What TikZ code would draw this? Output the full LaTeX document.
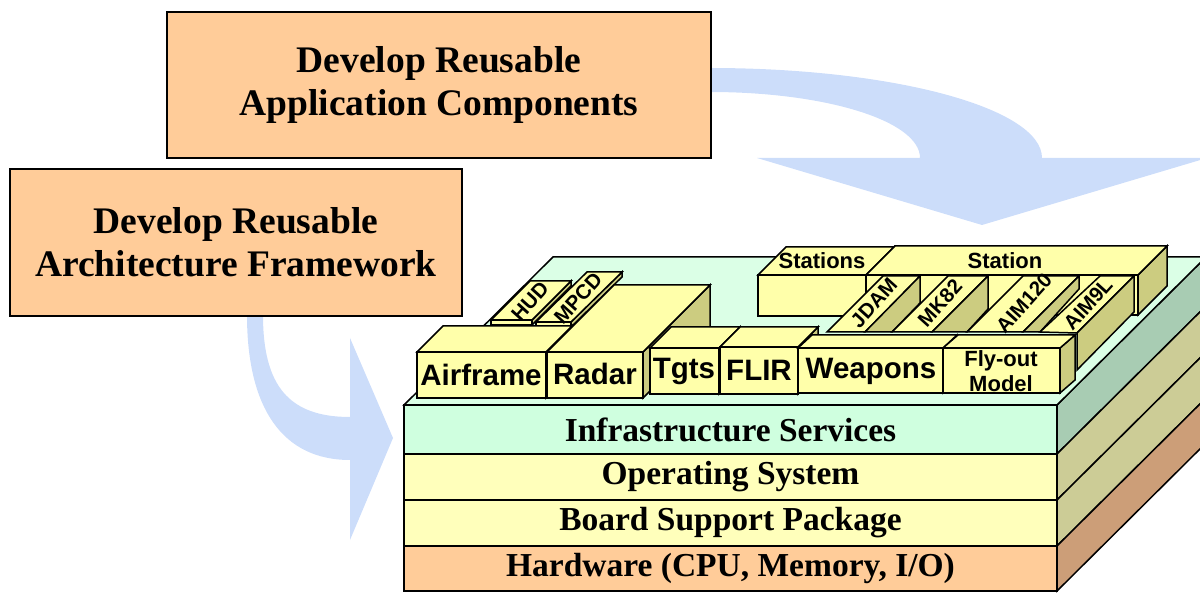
\documentclass[tikz,border=0pt]{standalone}
\usepackage{fontspec}
\setmainfont{Liberation Serif}
\setsansfont{Liberation Sans}
\definecolor{orangebox}{HTML}{FFCC99}
\definecolor{arrowblue}{HTML}{CCDDFA}
\definecolor{topmint}{HTML}{DBFFE6}
\definecolor{infrafront}{HTML}{CFFFDF}
\definecolor{infraside}{HTML}{A8CCB3}
\definecolor{osfront}{HTML}{FFFFBB}
\definecolor{osside}{HTML}{CCCC96}
\definecolor{hwfront}{HTML}{FFCC99}
\definecolor{hwside}{HTML}{CC9E78}
\definecolor{compfront}{HTML}{FFFFAA}
\definecolor{compside}{HTML}{CCCC80}
\newcommand\boxthree[6]{%
  \filldraw[sideface] (#3,#2) -- ++(#5,-#6) -- ++(0,#4-#2) -- (#3,#4) -- cycle;
  \filldraw[topface] (#1,#2) -- (#3,#2) -- ++(#5,-#6) -- ++(#1-#3,0) -- cycle;
  \filldraw[frontface] (#1,#2) rectangle (#3,#4);
}
\begin{document}
\begin{tikzpicture}[x=1pt,y=-1pt,
  edge/.style={draw=black,line width=1.5pt},
  sideface/.style={edge,fill=compside},
  topface/.style={edge,fill=compfront},
  frontface/.style={edge,fill=compfront},
  obox/.style={fill=orangebox,draw=black,line width=2pt,align=center,inner sep=0pt,
    font=\bfseries\fontsize{37.5}{43}\selectfont},
  layer/.style={edge,inner sep=0pt,outer sep=0pt,minimum width=653pt,
    font=\bfseries\fontsize{33.5}{36}\selectfont},
  comptext/.style={inner sep=0pt,font=\sffamily\bfseries\fontsize{29.5}{30}\selectfont},
  smalltext/.style={inner sep=0pt,align=center,font=\sffamily\bfseries\fontsize{22}{25}\selectfont},
  slanttext/.style={inner sep=0pt,rotate=48,font=\sffamily\bfseries\fontsize{20.5}{21}\selectfont},
  bigarrow/.style={fill=arrowblue,draw=none}]
\useasboundingbox (0,0) rectangle (1200,593);
\clip (0,0) rectangle (1200,593);

% big curved arrows
\path[bigarrow] (700,68) -- (710,68) .. controls (893,68) and (1042,108) .. (1042,158)
  -- (1207,158) -- (982,225) -- (757,158) -- (920,158)
  .. controls (920,121) and (826,92) .. (710,92) -- (700,92) -- cycle;
\path[bigarrow] (247,305) -- (247,315) .. controls (247,409) and (283,460) .. (350,460)
  -- (350,540) -- (393,438) -- (350,338) -- (350,417)
  .. controls (289,417) and (263,386) .. (263,315) -- (263,305) -- cycle;

% orange boxes
\node[obox,minimum width=544pt,minimum height=146pt] (appbox) at (439,85)
  {Develop Reusable\\Application Components};
\node[obox,minimum width=452pt,minimum height=147pt] (archbox) at (236,242.5)
  {Develop Reusable\\Architecture Framework};

% stack side faces and top
\filldraw[edge,fill=infraside] (1057,405) -- (1206,257) -- (1206,306) -- (1057,454) -- cycle;
\filldraw[edge,fill=osside] (1057,454) -- (1206,306) -- (1206,352) -- (1057,500) -- cycle;
\filldraw[edge,fill=osside] (1057,500) -- (1206,352) -- (1206,398) -- (1057,546) -- cycle;
\filldraw[edge,fill=hwside] (1057,546) -- (1206,398) -- (1206,443) -- (1057,591) -- cycle;
\filldraw[edge,fill=topmint] (404,405) -- (1057,405) -- (1206,257) -- (553,257) -- cycle;

% stack front layers
\node[layer,fill=infrafront,minimum height=49pt] (infra) at (730.5,429.5) {Infrastructure Services};
\node[layer,fill=osfront,minimum height=46pt] (os) at (730.5,477) {Operating System};
\node[layer,fill=osfront,minimum height=46pt] (bsp) at (730.5,523) {Board Support Package};
\node[layer,fill=hwfront,minimum height=45pt] (hw) at (730.5,568.5) {Hardware (CPU, Memory, I/O)};

% stations
\boxthree{758}{275}{866}{316}{28}{28}
\boxthree{866}{275}{1138}{315}{29}{29}
\node[smalltext] (stations) at (822,261) {Stations};
\node[smalltext] (station) at (1005,261) {Station};

% leaning plates
\filldraw[topface] (827,332) -- (865,332) -- (920,276) -- (883,276) -- cycle;
\filldraw[sideface] (865,332) -- (920,276) -- (920,303) -- (892,332) -- cycle;
\filldraw[topface] (892,332) -- (932,332) -- (988,276) -- (948,276) -- cycle;
\filldraw[sideface] (932,332) -- (988,276) -- (988,309) -- (967,332) -- cycle;
\filldraw[topface] (967,332) -- (1023,332) -- (1079,276) -- (1023,276) -- cycle;
\filldraw[sideface] (1023,332) -- (1079,276) -- (1079,289) -- (1040,332) -- cycle;
\filldraw[topface] (1040,332) -- (1077,333) -- (1134,276) -- (1100,276) -- cycle;
\filldraw[sideface] (1077,333) -- (1134,276) -- (1134,312) -- (1077,370) -- cycle;
\node[slanttext] (jdam) at (874,303) {JDAM};
\node[slanttext] (mk82) at (940,303) {MK82};
\node[slanttext] (aim120) at (1024,303) {AIM120};
\node[slanttext] (aim9l) at (1088,304) {AIM9L};

% HUD and MPCD
\boxthree{491}{320}{532}{325}{39}{39}
\boxthree{536}{322}{571}{327}{51}{50}
\node[slanttext] (hud) at (530,301) {HUD};
\node[slanttext] (mpcd) at (578,298) {MPCD};

% front row
\boxthree{417}{352}{546}{398}{26}{26}
\boxthree{547}{352}{643}{398}{67}{67}
\boxthree{650}{348}{719}{394}{21}{21}
\boxthree{720}{347}{798}{394}{20}{20}
\boxthree{798}{348}{943}{393}{14}{13}
\boxthree{943}{348}{1060}{393}{15}{13}
\node[comptext] (airframe) at (481,375) {Airframe};
\node[comptext] (radar) at (595,374) {Radar};
\node[comptext] (tgts) at (684,371) {Tgts};
\node[comptext] (flir) at (759,370) {FLIR};
\node[comptext] (weapons) at (871,371) {Weapons};
\node[smalltext] (flyout) at (1001,371) {Fly-out\\Model};
\end{tikzpicture}
\end{document}
